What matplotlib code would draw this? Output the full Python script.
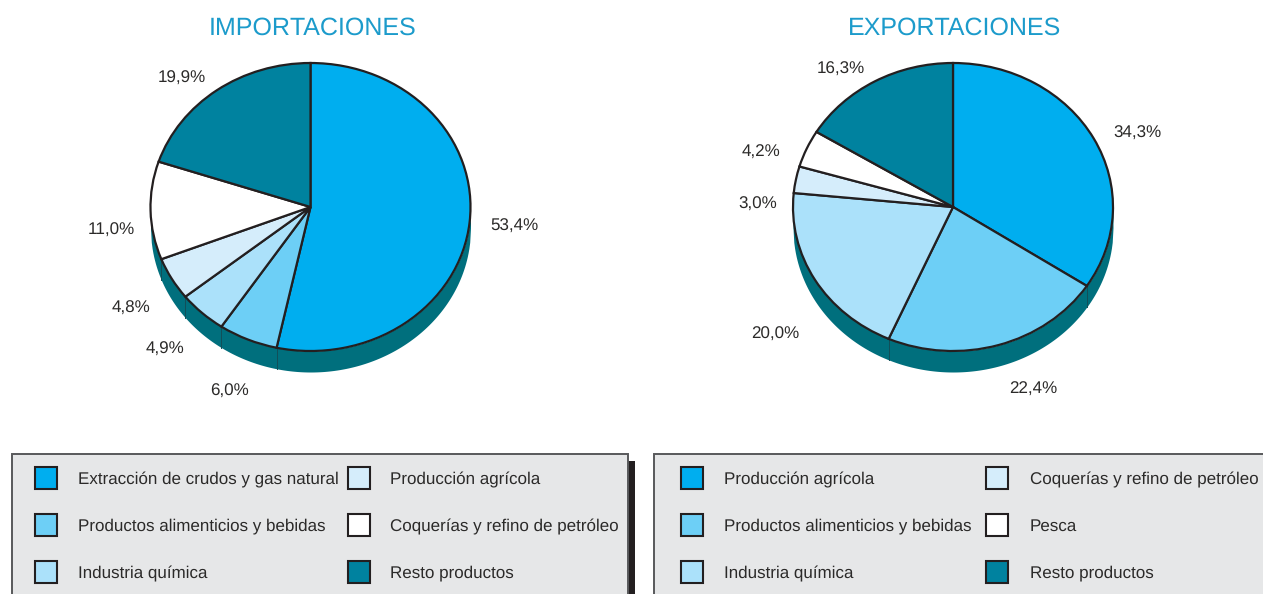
# -*- coding: utf-8 -*-
"""
Importaciones / exportaciones por producto, two tilted pies with legend boxes
"""
import numpy as np
from matplotlib import pyplot as plt
from matplotlib.patches import Rectangle

plt.rcParams['font.family'] = ['Liberation Sans', 'DejaVu Sans']
plt.rcParams['text.hinting'] = 'no_hinting'
plt.rcParams['text.hinting_factor'] = 1

W, H = 1263, 594

IMP_VALUES = [53.4, 6.0, 4.9, 4.8, 11.0, 19.9]
EXP_VALUES = [34.3, 22.4, 20.0, 3.0, 4.2, 16.3]
IMP_LABELS = ['Extracción de crudos y gas natural', 'Productos alimenticios y bebidas',
              'Industria química', 'Producción agrícola',
              'Coquerías y refino de petróleo', 'Resto productos']
EXP_LABELS = ['Producción agrícola', 'Productos alimenticios y bebidas',
              'Industria química', 'Coquerías y refino de petróleo',
              'Pesca', 'Resto productos']

COLORS = ['#00AEEF', '#6DCFF6', '#ABE1FA', '#D5EDFB', '#FFFFFF', '#00829F']
SIDE = '#006F7D'
DARK = '#231F20'
TITLE = '#1C9BCB'
PANEL = '#E6E7E8'

# label centres in figure pixels
IMP_POS = [(514, 225), (230, 390), (165, 348), (131, 307), (111, 229), (182, 77)]
EXP_POS = [(1137, 132), (1033, 388), (775, 333), (758, 203), (761, 151), (841, 68)]

RX = 160.
RY = 144.
DEPTH = 21.


def tilted_pie(fig, values, cx, cy):
    """
    Draw a squashed pie with a dark rim below it, centred at pixel cx, cy
    """
    # the pie axes limits are +-1.25, so scale the axes to get RX, RY pixels
    w, h = 2.5 * RX, 2.5 * RY
    ax = fig.add_axes([(cx - w / 2) / W, 1 - (cy + h / 2) / H, w / W, h / H])
    ax.pie(values, colors=COLORS, startangle=90, counterclock=False, radius=1.,
           wedgeprops={'edgecolor': DARK, 'linewidth': 1.6, 'zorder': 3})
    ax.set_aspect('auto')
    ax.set_xlim(-1.25, 1.25)
    ax.set_ylim(-1.25, 1.25)
    d = DEPTH / RY

    x = np.linspace(-1, 1, 400)
    low = -np.sqrt(1 - x ** 2)
    ax.fill_between(x, low, low - d, color=SIDE, linewidth=0, zorder=1)

    # seams on the rim where slices meet
    angles = np.radians(90 - 3.6 * np.cumsum(values) / (sum(values) / 100.))
    for a in angles:
        if np.sin(a) < 0:
            ax.plot([np.cos(a)] * 2, [np.sin(a), np.sin(a) - d], color='#124F58',
                    linewidth=0.7, zorder=2)
    return ax


def legend_box(ax, x0, x1, labels, col_x, text_x):
    """
    Draw a grey legend box running off the bottom of the figure
    """
    ax.add_patch(Rectangle((x0, 454), x1 - x0, H - 454 + 10, facecolor=PANEL,
                           edgecolor='#58595B', linewidth=1.4, zorder=2))
    rows = [478, 525, 572]
    for n, label in enumerate(labels):
        c = n // 3
        y = rows[n % 3]
        ax.add_patch(Rectangle((col_x[c], y - 11), 22, 22, facecolor=COLORS[n],
                               edgecolor=DARK, linewidth=1.5, zorder=3))
        ax.text(text_x[c], y + 1.5, label, fontsize=12.2, color='#2B2A29', va='center',
                ha='left', zorder=3)


def main():
    fig = plt.figure(figsize=(W / 100., H / 100.), dpi=100)
    bg = fig.add_axes([0, 0, 1, 1])
    bg.set_xlim(0, W)
    bg.set_ylim(H, 0)
    bg.axis('off')

    bg.text(312.5, 28, 'IMPORTACIONES', fontsize=17.9, color=TITLE, ha='center', va='center')
    bg.text(955, 28, 'EXPORTACIONES', fontsize=17.9, color=TITLE, ha='center', va='center')

    tilted_pie(fig, IMP_VALUES, 310.5, 207)
    tilted_pie(fig, EXP_VALUES, 953, 207)

    for values, pos in ((IMP_VALUES, IMP_POS), (EXP_VALUES, EXP_POS)):
        for v, (x, y) in zip(values, pos):
            bg.text(x, y + 1.5, '{0:.1f}%'.format(v).replace('.', ','), fontsize=12.2,
                    color='#2B2A29', ha='center', va='center')

    bg.add_patch(Rectangle((628, 461), 7, H - 461, facecolor=DARK, edgecolor='none', zorder=1))
    legend_box(bg, 12, 628, IMP_LABELS, [35, 348], [78, 390])
    legend_box(bg, 654, W + 10, EXP_LABELS, [681, 986], [724, 1030])

    fig.savefig('out.png', dpi=100)


main()
